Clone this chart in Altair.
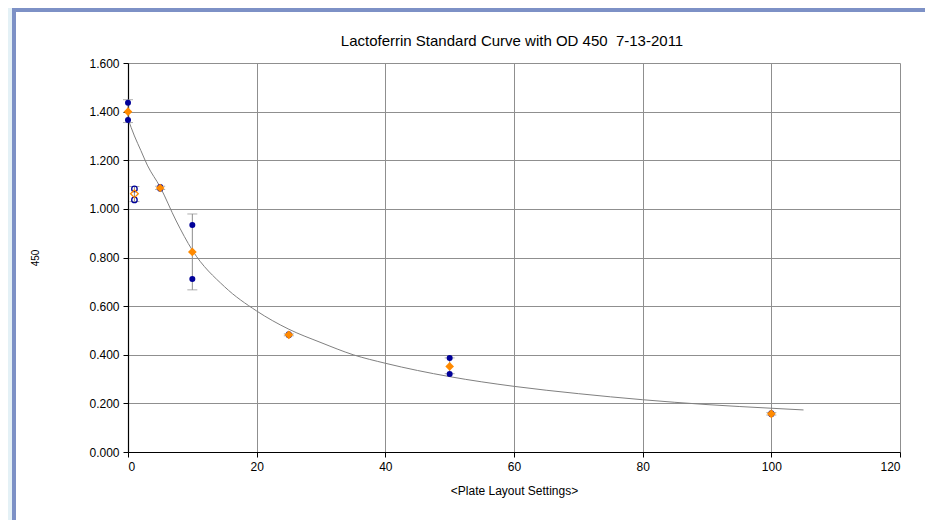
import altair as alt
import pandas as pd

# ---- data ----
# replicate readings (filled navy circles)
rep_x = [0, 0, 5, 5, 10, 10, 25, 25, 50, 50, 100, 100]
rep_y = [1.437, 1.366, 1.090, 1.083, 0.934, 0.712, 0.484, 0.480, 0.387, 0.321, 0.159, 0.155]

# mean of replicates (orange diamonds)
mean_x = [0, 5, 10, 25, 50, 100]
mean_y = [1.400, 1.086, 0.823, 0.482, 0.352, 0.157]

# error bars (low / high)
err_x = [0, 5, 10, 25, 50, 100, 1]
err_lo = [1.355, 1.080, 0.667, 0.478, 0.322, 0.152, 1.030]
err_hi = [1.449, 1.093, 0.979, 0.486, 0.387, 0.162, 1.092]

# excluded (open) markers at x = 1
open_rep_x = [1, 1]
open_rep_y = [1.082, 1.037]
open_mean_x = [1]
open_mean_y = [1.062]

# fitted standard curve
curve_x = [0, 1, 2, 3, 5, 7.5, 10, 15, 20, 25, 30, 35, 40, 50, 60, 70, 80, 90, 100, 105]
curve_y = [1.37, 1.30, 1.24, 1.18, 1.09, 0.95, 0.83, 0.68, 0.58, 0.505, 0.45, 0.40, 0.365,
           0.31, 0.27, 0.24, 0.215, 0.195, 0.18, 0.173]

x_ticks = [0, 20, 40, 60, 80, 100, 120]
y_ticks = [0, 0.2, 0.4, 0.6, 0.8, 1.0, 1.2, 1.4, 1.6]

# double space kept visible with a no-break space
TITLE = "Lactoferrin Standard Curve with OD 450\u00a0 7-13-2011"

NAVY = "#000099"
ORANGE = "#ff8a00"
FONT = "Liberation Sans"

W, H = 772, 389
PAD = {"left": 120, "top": 55, "right": 25, "bottom": 68}

xs = alt.Scale(domain=[0, 120], nice=False, zero=False)
ys = alt.Scale(domain=[0, 1.6], nice=False, zero=False)

x_axis = alt.Axis(values=x_ticks, title="<Plate Layout Settings>", format="d",
                  labelFontSize=12, titleFontSize=12, titleFontWeight="normal",
                  titlePadding=13, labelPadding=4, tickSize=5, grid=True)
y_axis = alt.Axis(values=y_ticks, title="450", format=".3f",
                  labelFontSize=12, titleFontSize=10, titleFontWeight="normal",
                  titleX=-93, titleY=H / 2, titleAngle=270, titleAlign="center",
                  titleBaseline="middle", labelPadding=4, tickSize=5, grid=True)

rep_df = pd.DataFrame({"x": rep_x, "y": rep_y})
mean_df = pd.DataFrame({"x": mean_x, "y": mean_y})
err_df = pd.DataFrame({"x": err_x, "lo": err_lo, "hi": err_hi})
open_rep_df = pd.DataFrame({"x": open_rep_x, "y": open_rep_y})
open_mean_df = pd.DataFrame({"x": open_mean_x, "y": open_mean_y})
curve_df = pd.DataFrame({"x": curve_x, "y": curve_y})
one = pd.DataFrame({"k": [0]})

# decorative frame (outside the plot area)
outer = alt.Chart(one).mark_rect(color="#e4f1f6").encode(
    x=alt.value(-PAD["left"]), x2=alt.value(-116),
    y=alt.value(-PAD["top"]), y2=alt.value(H + PAD["bottom"]))
frame_left = alt.Chart(one).mark_rect(color="#7d91c6").encode(
    x=alt.value(-116), x2=alt.value(-112),
    y=alt.value(-PAD["top"]), y2=alt.value(H + PAD["bottom"]))
frame_top = alt.Chart(one).mark_rect(color="#7d91c6").encode(
    x=alt.value(-116), x2=alt.value(W + PAD["right"]),
    y=alt.value(-PAD["top"]), y2=alt.value(-PAD["top"] + 4))

title_text = alt.Chart(one).mark_text(
    text=TITLE, font=FONT, fontSize=15, color="#000000",
    align="center", baseline="middle").encode(
    x=alt.value(W / 2 - 2), y=alt.value(-22))

curve = alt.Chart(curve_df).mark_line(color="#808080", strokeWidth=1,
                                      interpolate="monotone").encode(
    x=alt.X("x:Q", scale=xs, axis=x_axis),
    y=alt.Y("y:Q", scale=ys, axis=y_axis))

err_rule = alt.Chart(err_df).mark_rule(color="#8c8c8c", strokeWidth=1).encode(
    x=alt.X("x:Q", scale=xs), y=alt.Y("lo:Q", scale=ys), y2="hi:Q")
err_lo_tick = alt.Chart(err_df).mark_tick(color="#8c8c8c", orient="horizontal",
                                          size=10, thickness=1).encode(
    x=alt.X("x:Q", scale=xs), y=alt.Y("lo:Q", scale=ys))
err_hi_tick = alt.Chart(err_df).mark_tick(color="#8c8c8c", orient="horizontal",
                                          size=10, thickness=1).encode(
    x=alt.X("x:Q", scale=xs), y=alt.Y("hi:Q", scale=ys))

reps = alt.Chart(rep_df).mark_point(shape="circle", filled=True, color=NAVY,
                                    size=36, opacity=1).encode(
    x=alt.X("x:Q", scale=xs), y=alt.Y("y:Q", scale=ys))
means = alt.Chart(mean_df).mark_point(shape="diamond", filled=True, color=ORANGE,
                                      size=75, opacity=1).encode(
    x=alt.X("x:Q", scale=xs), y=alt.Y("y:Q", scale=ys))
open_reps = alt.Chart(open_rep_df).mark_point(shape="circle", filled=False, color=NAVY,
                                              size=30, strokeWidth=1.3, opacity=1).encode(
    x=alt.X("x:Q", scale=xs), y=alt.Y("y:Q", scale=ys))
open_means = alt.Chart(open_mean_df).mark_point(shape="diamond", filled=False, color=ORANGE,
                                                size=60, strokeWidth=1.3, opacity=1).encode(
    x=alt.X("x:Q", scale=xs), y=alt.Y("y:Q", scale=ys))

chart = alt.layer(
    outer, frame_left, frame_top, title_text, curve, err_rule, err_lo_tick, err_hi_tick,
    reps, means, open_reps, open_means
).properties(
    width=W, height=H,
    autosize=alt.AutoSizeParams(type="none"),
    padding=PAD,
    background="white",
).configure_view(stroke=None).configure_axis(
    labelFont=FONT, titleFont=FONT, labelColor="#000000", titleColor="#000000",
    domainColor="#000000", domainWidth=1.2, tickColor="#000000", tickWidth=1,
    gridColor="#8f8f8f", gridWidth=1, gridOpacity=1,
)

chart.save("out.html", embed_options={"renderer": "svg", "actions": False})
